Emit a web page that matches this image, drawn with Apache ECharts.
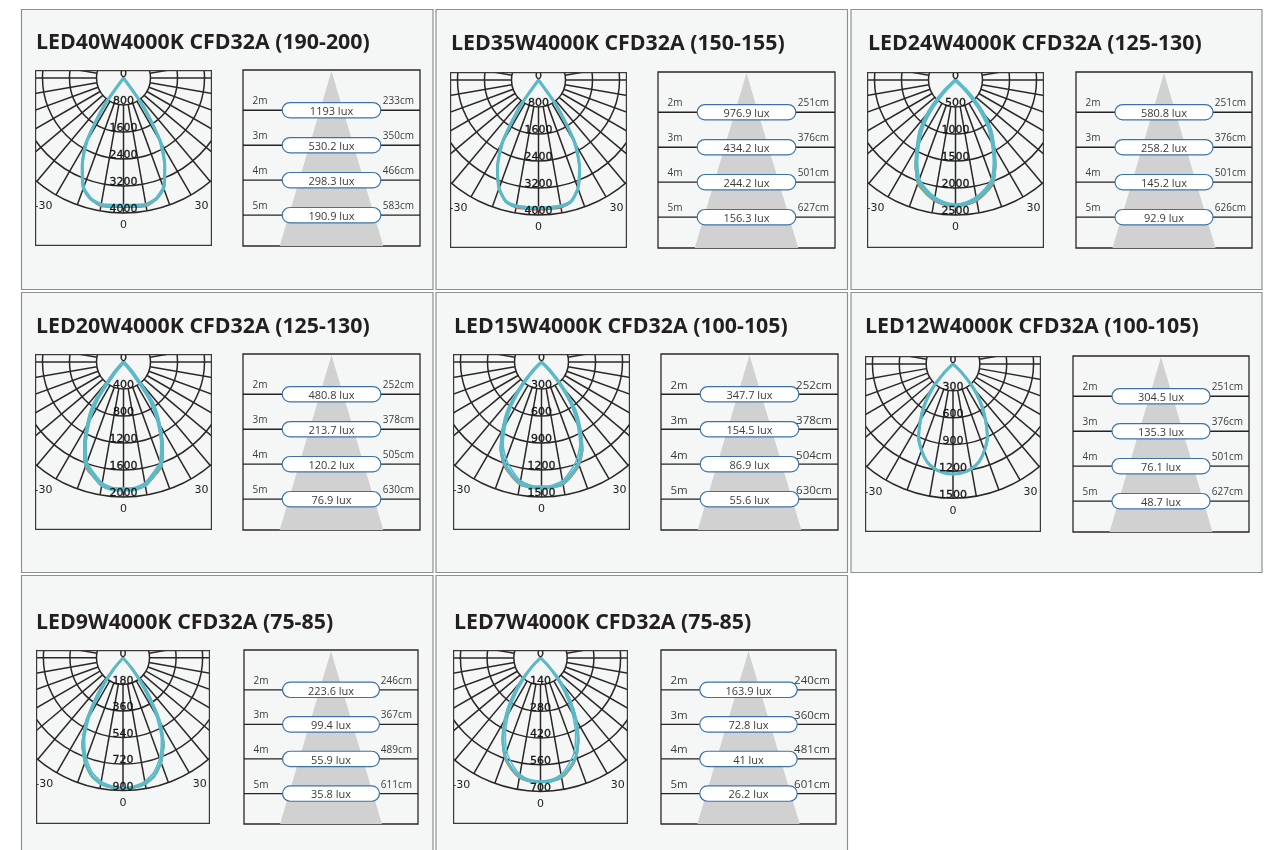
<!DOCTYPE html>
<html>
<head>
<meta charset="utf-8">
<style>
html,body{margin:0;padding:0;background:#fff;overflow:hidden}
#page{position:absolute;left:0;top:0;width:1265px;height:850px}
.polar{position:absolute}
</style>
<script src="https://cdn.jsdelivr.net/npm/echarts@6/dist/echarts.min.js"></script>
</head>
<body>
<div id="page"></div>
<script>
// ---------- data ----------
const titles = [
  'LED40W4000K CFD32A (190-200)','LED35W4000K CFD32A (150-155)','LED24W4000K CFD32A (125-130)',
  'LED20W4000K CFD32A (125-130)','LED15W4000K CFD32A (100-105)','LED12W4000K CFD32A (100-105)',
  'LED9W4000K CFD32A (75-85)','LED7W4000K CFD32A (75-85)'
];
const radialTicks = [
  [0,800,1600,2400,3200,4000],[0,800,1600,2400,3200,4000],[0,500,1000,1500,2000,2500],[0,400,800,1200,1600,2000],
  [0,300,600,900,1200,1500],[0,300,600,900,1200,1500],[0,180,360,540,720,900],[0,140,280,420,560,700]
];
const angles = [0,5,10,15,20,25,30,35,40,45,50];
const spokeAngles = [0,10,20,30,40,50,60,70,80,90,100,110,120,130,140,150,160,170,180,190,200,210,220,230,240,250,260,270,280,290,300,310,320,330,340,350];

const teal = [
  [3780,3790,3820,3720,3480,2900,2230,1050,0,0,0],
  [3800,3800,3800,3730,3420,2880,2180,1000,0,0,0],
  [2330,2300,2240,2130,2000,1720,1400,1130,760,330,0],
  [1890,1890,1850,1730,1620,1350,1050,760,220,0,0],
  [1400,1395,1370,1290,1200,1060,850,640,350,120,0],
  [1230,1220,1190,1130,1030,910,730,560,370,150,0],
  [885,880,865,825,750,645,495,290,100,0,0],
  [650,648,632,595,545,465,370,265,155,50,0]
];
const tealInner = [
  [3750,3760,3780,3680,3420,2830,2050,700,0,0,0],
  [3770,3770,3770,3700,3380,2820,2000,680,0,0,0],
  [2300,2270,2200,2090,1950,1670,1330,1010,560,120,0],
  [1870,1870,1820,1700,1580,1310,990,620,120,0,0],
  [1380,1375,1340,1250,1150,1010,790,550,240,50,0],
  [1225,1215,1180,1120,1015,890,700,510,300,90,0],
  [880,872,850,805,725,615,440,200,40,0,0],
  [645,640,620,575,520,435,330,215,100,20,0]
];
const red = [
  [3820,3830,3850,3730,3490,2910,2240,1060,0,0,0],
  [3840,3840,3840,3740,3430,2890,2185,1010,0,0,0],
  [2335,2315,2265,2160,2035,1745,1410,1140,770,335,0],
  [1895,1895,1860,1750,1645,1375,1060,765,225,0,0],
  [1402,1400,1380,1305,1220,1075,860,645,355,120,0],
  [1232,1222,1192,1132,1032,912,732,562,372,152,0],
  [887,883,868,828,755,650,500,295,102,0,0],
  [651,650,638,602,552,472,375,268,157,50,0]
];
const green = [
  [3780,3795,3825,3725,3485,2905,2235,1055,0,0,0],
  [3805,3805,3805,3735,3425,2885,2185,1005,0,0,0],
  [2325,2295,2250,2150,2025,1735,1415,1125,750,315,0],
  [1885,1885,1855,1745,1635,1370,1055,755,215,0,0],
  [1400,1397,1375,1300,1210,1070,855,640,345,110,0],
  [1231,1221,1191,1131,1031,911,731,561,371,151,0],
  [886,882,870,830,757,652,502,293,103,0,0],
  [650,649,635,598,548,468,372,266,152,47,0]
];

const distances = [2,3,4,5];
const luxValues = [
  [1193,530.2,298.3,190.9],[976.9,434.2,244.2,156.3],[580.8,258.2,145.2,92.9],[480.8,213.7,120.2,76.9],
  [347.7,154.5,86.9,55.6],[304.5,135.3,76.1,48.7],[223.6,99.4,55.9,35.8],[163.9,72.8,41,26.2]
];
const spotCm = [
  [233,350,466,583],[251,376,501,627],[251,376,501,626],[252,378,505,630],
  [252,378,504,630],[251,376,501,627],[246,367,489,611],[240,360,481,601]
];
const coneApex = [0,0.88];
const coneBase = [-51.5,51.5,5.88];

// ---------- layout (not data) ----------
const layout = [
  {p:[21.5,9.5,411.5,280],   t:[36,43],  a:[35,70,177,176],  b:[243,70,177,176],  f:10,  lw:3},
  {p:[436,9.5,411.5,280],    t:[451,44], a:[450,72,177,176], b:[658,72,177,176],  f:10,  lw:3},
  {p:[851,9.5,411,280],      t:[868,44], a:[867,72,177,176], b:[1076,72,176,176], f:10,  lw:3.8},
  {p:[21.5,292.5,411.5,280], t:[36,327], a:[35,354,177,176], b:[243,354,177,176], f:10,  lw:3.8},
  {p:[436,292.5,411.5,280],  t:[454,327],a:[453,354,177,176],b:[661,354,177,176], f:11.5,lw:3.4},
  {p:[851,292.5,411,280],    t:[865,327],a:[865,356,176,176],b:[1073,356,176,176],f:10,  lw:3},
  {p:[21.5,575.5,411.5,290], t:[36,623], a:[36,650,174,174], b:[244,650,174,174], f:10,  lw:3},
  {p:[436,575.5,411.5,290],  t:[454,623],a:[453,650,175,174],b:[661,650,175,174], f:11.5,lw:3}
];
const INK = '#2b2726';

// ---------- background page: panels, titles, lux diagrams ----------
const pageChart = echarts.init(document.getElementById('page'));
const graphics = [], grids = [], xAxes = [], yAxes = [], pageSeries = [];
layout.forEach((L, i) => {
  graphics.push({type:'rect', z:0, silent:true,
    shape:{x:L.p[0],y:L.p[1],width:L.p[2],height:L.p[3]},
    style:{fill:'#f5f7f7',stroke:'#8f9191',lineWidth:1.2}});
  graphics.push({type:'text', z:1, silent:true, x:L.t[0], y:L.t[1],
    style:{text:titles[i],font:'700 21.35px "Open Sans", sans-serif',fill:'#231f20',textVerticalAlign:'middle',textAlign:'left'}});
  const [bx,by,bw,bh] = L.b;
  grids.push({show:true,left:bx,top:by,width:bw,height:bh,containLabel:false,
    backgroundColor:'transparent',borderColor:INK,borderWidth:1.3,z:2});
  xAxes.push({gridIndex:i,type:'value',min:-88,max:88,show:false});
  yAxes.push({gridIndex:i,type:'value',min:0.85,max:5.88,inverse:true,show:false});
  pageSeries.push({type:'custom',xAxisIndex:i,yAxisIndex:i,z:3,silent:true,animation:false,
    data:[[coneApex[0],coneApex[1]]],
    renderItem:(params,api)=>{
      const a=api.coord(coneApex), l=api.coord([coneBase[0],coneBase[2]]), r=api.coord([coneBase[1],coneBase[2]]);
      return {type:'polygon',shape:{points:[a,l,r]},style:{fill:'#d1d1d1'}};
    }});
  pageSeries.push({type:'custom',xAxisIndex:i,yAxisIndex:i,z:4,silent:true,animation:false,
    data:distances.map((d,k)=>[0,d,luxValues[i][k],spotCm[i][k]]),
    renderItem:(params,api)=>{
      const d=api.value(1), lux=api.value(2), cm=api.value(3);
      const c=api.coord([0,d]), L0=api.coord([-88,d]), R0=api.coord([88,d]);
      const halfW=(api.size([98,0])[0])/2, h=15.4;
      const small=L.f;
      return {type:'group',children:[
        {type:'line',shape:{x1:L0[0],y1:c[1],x2:R0[0],y2:c[1]},style:{stroke:'#262322',lineWidth:1.3}},
        {type:'rect',shape:{x:c[0]-halfW,y:c[1]-h/2,width:halfW*2,height:h,r:h/2},
          style:{fill:'#ffffff',stroke:'#3c72a8',lineWidth:1.2}},
        {type:'text',x:c[0],y:c[1]+1.8,style:{text:lux+' lux',font:'11px "Open Sans", sans-serif',fill:'#3b3b3b',textAlign:'center',textVerticalAlign:'middle'}},
        {type:'text',x:L0[0]+9.5,y:c[1]-8.8,style:{text:d+'m',font:small+'px "Open Sans", sans-serif',fill:'#3b3b3b',textAlign:'left',textVerticalAlign:'middle'}},
        {type:'text',x:R0[0]-6,y:c[1]-8.8,style:{text:cm+'cm',font:small+'px "Open Sans", sans-serif',fill:'#3b3b3b',textAlign:'right',textVerticalAlign:'middle'}}
      ]};
    }});
});
pageChart.setOption({animation:false,backgroundColor:'#ffffff',graphic:graphics,grid:grids,xAxis:xAxes,yAxis:yAxes,series:pageSeries});

// ---------- polar candela diagrams, each clipped by its own box ----------
function outline(vals){
  const pts=[];
  for(let k=angles.length-1;k>=0;k--){ if(vals[k]>0||(k>0&&vals[k-1]>0)) pts.push([vals[k],angles[k]]); }
  for(let k=1;k<angles.length;k++){ if(vals[k]>0||vals[k-1]>0) pts.push([vals[k],360-angles[k]]); }
  return pts;
}
function curve(vals,color,width){
  return {type:'line',coordinateSystem:'polar',data:outline(vals),showSymbol:false,symbol:'none',smooth:0.2,
    clip:false,silent:true,animation:false,z:5,lineStyle:{color:color,width:width,join:'round',cap:'round'}};
}
layout.forEach((L,i)=>{
  const [ax,ay,aw,ah]=L.a;
  const el=document.createElement('div');
  el.className='polar';
  el.style.cssText=`left:${ax}px;top:${ay}px;width:${aw}px;height:${ah}px;`;
  document.body.appendChild(el);
  const chart=echarts.init(el);
  const scale=aw/177;
  const ticks=radialTicks[i], step=ticks[1], max=ticks[ticks.length-1];
  chart.setOption({
    animation:false,
    backgroundColor:'transparent',
    polar:{center:[aw/2,8*scale],radius:135*scale},
    angleAxis:{type:'value',min:0,max:360,interval:30,startAngle:-90,clockwise:false,
      axisLine:{show:false},axisTick:{show:false},splitLine:{show:false},
      axisLabel:{margin:7,color:'#222',fontFamily:'"DejaVu Sans"',fontSize:11,
        formatter:v=>v===0?'0':v===30?'30':v===330?'-30':''}},
    radiusAxis:{type:'value',min:0,max:max,interval:step,
      axisLine:{show:false},axisTick:{show:false},
      splitLine:{show:true,lineStyle:{color:INK,width:1.5}},
      axisLabel:{show:false}},
    graphic:[{type:'rect',z:100,silent:true,shape:{x:0.5,y:0.5,width:aw-1,height:ah-1},
      style:{fill:'none',stroke:'#3c3836',lineWidth:1.4}}],
    series:[
      {type:'custom',coordinateSystem:'polar',silent:true,animation:false,z:2,clip:false,
        data:spokeAngles.map(a=>[step,a]),
        renderItem:(params,api)=>{
          const a=api.value(1), p=api.coord([step,a]), q=api.coord([max,a]);
          return {type:'line',shape:{x1:p[0],y1:p[1],x2:q[0],y2:q[1]},style:{stroke:INK,lineWidth:1.5}};
        }},
      curve(red[i],'#d9522c',L.lw*0.45+0.6),
      curve(green[i],'#7fb54e',L.lw*0.45+0.6),
      curve(tealInner[i],'#5cbbc9',Math.max(1.3,L.lw*0.5)),
      curve(teal[i],'#5bb9c8',L.lw),
      {type:'scatter',coordinateSystem:'polar',silent:true,animation:false,z:8,zlevel:0,clip:false,symbolSize:0,
        data:ticks.map(t=>[t,0]),
        label:{show:true,position:'top',distance:0,offset:[0,2],formatter:p=>String(p.value[0]),
          color:'#161616',opacity:1,fontFamily:'"DejaVu Sans"',fontSize:11,textBorderColor:'#161616',textBorderWidth:0.3}}
    ]
  });
});
</script>
</body>
</html>
